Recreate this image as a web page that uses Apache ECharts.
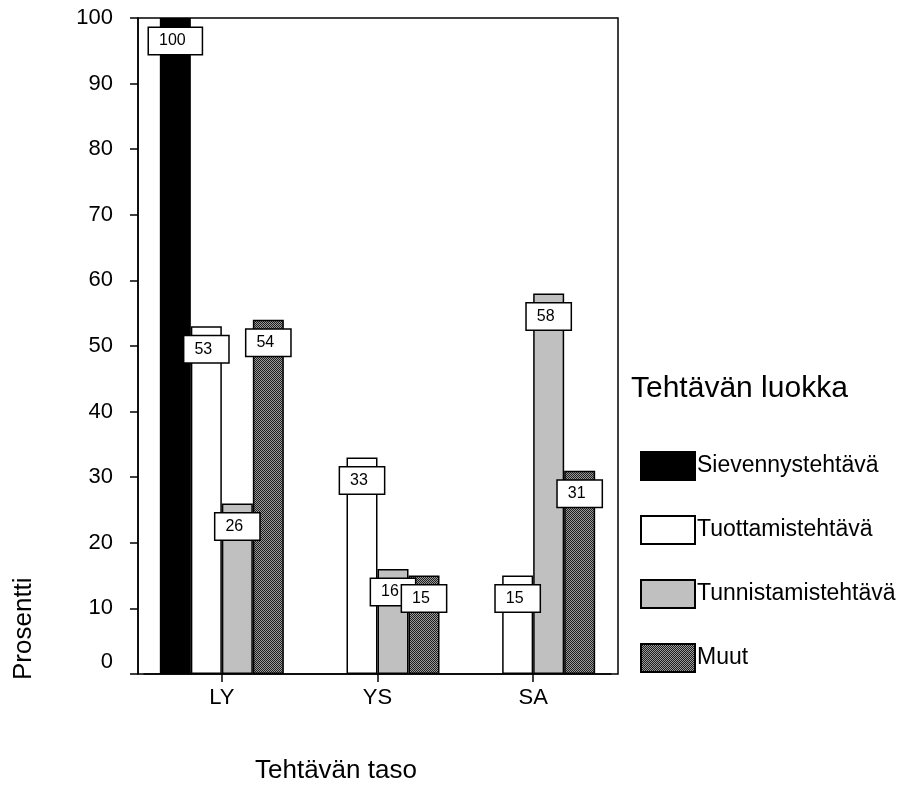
<!DOCTYPE html>
<html>
<head>
<meta charset="utf-8">
<script src="https://cdn.jsdelivr.net/npm/echarts@6/dist/echarts.min.js"></script>
<style>
  html, body { margin: 0; padding: 0; background: #fff; }
  #chart { width: 901px; height: 787px; }
</style>
</head>
<body>
<div id="chart"></div>
<script>
// Task levels on the x axis
const categories = ['LY', 'YS', 'SA'];

// Percentages per task class
const sievennys = [100, 0, 0];
const tuottamis = [53, 33, 15];
const tunnistamis = [26, 16, 58];
const muut = [54, 15, 31];

const seriesNames = ['Sievennystehtävä', 'Tuottamistehtävä', 'Tunnistamistehtävä', 'Muut'];
const yTicks = [0, 10, 20, 30, 40, 50, 60, 70, 80, 90, 100];

const FONT = '"Liberation Sans", Arial, sans-serif';

// Fine dark checker fill for the "Muut" bars
function checkerPattern() {
  const c = document.createElement('canvas');
  c.width = 2; c.height = 2;
  const ctx = c.getContext('2d');
  ctx.fillStyle = '#9a9a9a';
  ctx.fillRect(0, 0, 2, 2);
  ctx.fillStyle = '#1e1e1e';
  ctx.fillRect(0, 0, 1, 1);
  ctx.fillRect(1, 1, 1, 1);
  return { image: c, repeat: 'repeat' };
}

const fills = ['#000000', '#ffffff', '#c0c0c0', checkerPattern()];
const valueSets = [sievennys, tuottamis, tunnistamis, muut];

const labelStyle = {
  show: true,
  position: 'insideTop',
  distance: 10,
  fontFamily: FONT,
  fontSize: 16,
  color: '#000',
  backgroundColor: '#fff',
  borderColor: '#000',
  borderWidth: 1.5,
  padding: [5, 16, 5, 10]
};

const series = valueSets.map((vals, i) => ({
  name: seriesNames[i],
  type: 'bar',
  barWidth: 31,
  barGap: '0%',
  itemStyle: { color: fills[i], borderColor: '#000', borderWidth: 1.5 },
  label: labelStyle,
  data: vals.map(v => v === 0
    ? { value: v, label: { show: false }, itemStyle: { borderWidth: 0 } }
    : v)
}));

const chart = echarts.init(document.getElementById('chart'), null, { renderer: 'canvas' });

chart.setOption({
  animation: false,
  backgroundColor: '#fff',
  textStyle: { fontFamily: FONT },
  grid: { left: 144, right: 290, top: 18, bottom: 113, containLabel: false },
  title: {
    text: 'Tehtävän luokka',
    left: 631,
    top: 374,
    padding: 0,
    textStyle: { fontFamily: FONT, fontSize: 30, fontWeight: 'normal', color: '#000' }
  },
  legend: {
    orient: 'vertical',
    left: 640,
    top: 451,
    padding: 0,
    itemWidth: 54,
    itemHeight: 28,
    itemGap: 34,
    icon: 'rect',
    selectedMode: false,
    data: seriesNames,
    textStyle: { fontFamily: FONT, fontSize: 23, color: '#000', padding: [0, 0, 0, -3] }
  },
  xAxis: {
    type: 'category',
    data: categories,
    axisLine: { show: true, lineStyle: { color: '#000', width: 1.5 } },
    axisTick: { show: true, alignWithLabel: true, length: 8, lineStyle: { color: '#000', width: 1.5 } },
    axisLabel: { fontFamily: FONT, fontSize: 22, color: '#000', margin: 13 },
    splitLine: { show: false }
  },
  yAxis: {
    type: 'value',
    min: 0,
    max: 100,
    interval: 10,
    offset: 6,
    axisLine: { show: true, lineStyle: { color: '#000', width: 1.5 } },
    axisTick: { show: true, length: 8, lineStyle: { color: '#000', width: 1.5 } },
    axisLabel: {
      fontFamily: FONT, fontSize: 22, color: '#000', margin: 25,
      formatter: v => (yTicks.indexOf(v) === 0 ? '{z|' + v + '}' : String(v)),
      rich: { z: { fontFamily: FONT, fontSize: 22, color: '#000', padding: [0, 0, 24, 0] } }
    },
    splitLine: { show: false }
  },
  graphic: [
    {
      type: 'rect',
      shape: { x: 138, y: 18, width: 480, height: 656 },
      style: { fill: 'none', stroke: '#000', lineWidth: 1.5 },
      silent: true, z: 1
    },
    {
      type: 'text',
      left: 255, top: 758,
      style: { text: 'Tehtävän taso', fontFamily: FONT, fontSize: 26, fill: '#000' }
    },
    {
      type: 'text',
      x: 11, y: 680,
      rotation: Math.PI / 2,
      style: { text: 'Prosentti', fontFamily: FONT, fontSize: 26, fill: '#000', textVerticalAlign: 'top' }
    }
  ],
  series: series
});
</script>
</body>
</html>
